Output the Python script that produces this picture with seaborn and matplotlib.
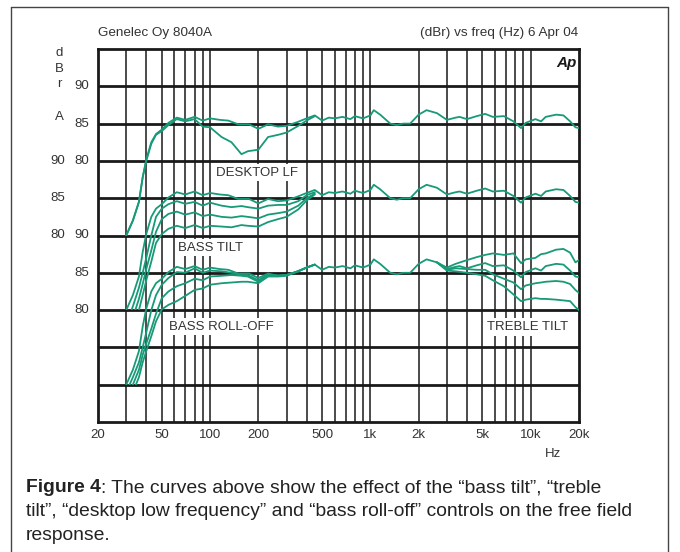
import matplotlib.pyplot as plt
import matplotlib.transforms as mtransforms
from matplotlib.patches import Rectangle
from matplotlib.lines import Line2D
from matplotlib.ticker import NullLocator
import seaborn as sns
import pandas as pd

sns.set_style('white')
plt.rcParams['font.family'] = ['Liberation Sans', 'DejaVu Sans']

GREEN = '#179a78'
INK = '#1a1a1a'

# ------------------------------------------------------------
# data (dBr)
# ------------------------------------------------------------
freq_hz = [30, 33, 36, 38, 40, 43, 46, 50, 55, 62, 70, 80, 90, 100, 115, 130,
           150, 175, 200, 230, 265, 300, 350, 400, 450, 500, 550, 600, 670,
           750, 800, 900, 1000, 1050, 1150, 1330, 1460, 1600, 1770, 2000,
           2240, 2600, 3000, 3400, 3600, 4000, 4600, 5200, 5800, 6800, 7800,
           8700, 9300, 10700, 11600, 12400, 14400, 16000, 17600, 19000, 20000]
flat_db = [70, 72, 74.5, 77.8, 80.2, 82.5, 83.6, 84.2, 85.1, 85.8, 85.5, 85.9,
           85.4, 85.7, 85.5, 85.4, 84.9, 84.9, 84.3, 84.9, 84.6, 84.7, 85.2,
           85.7, 86.1, 85.4, 85.8, 85.7, 85.9, 85.6, 86.0, 85.7, 86.1, 86.8,
           86.2, 85.0, 84.8, 85.0, 85.0, 86.2, 86.8, 86.4, 85.5, 85.8, 85.9,
           85.6, 86.0, 86.3, 85.9, 86.0, 85.3, 84.4, 85.1, 85.6, 85.3, 85.9,
           86.2, 86.1, 85.3, 84.5, 84.4]

freq_lo = [30, 33, 36, 38, 40, 43, 46, 50, 55, 62, 70, 80, 90, 100, 118, 136,
           157, 172, 200, 230, 266, 300, 355, 400, 450]
desktop_lf_db = [70, 72, 74.5, 77.8, 80.0, 82.3, 83.5, 84.0, 84.8, 85.6, 85.3,
                 85.6, 84.6, 84.5, 83.2, 82.5, 80.9, 81.3, 81.5, 83.2, 83.5,
                 83.8, 84.7, 85.4, 86.0]

bass_tilt_2_db = [68, 70.5, 73, 75, 77, 80, 82.5, 83.6, 84.2, 84.6, 84.25, 84.5,
                  84.0, 84.4, 84.0, 83.8, 83.95, 83.8, 83.6, 84.0, 84.1, 84.1,
                  84.6, 85.4, 85.8]
bass_tilt_4_db = [67, 69, 71.5, 73.5, 75.5, 78, 80.5, 82.2, 82.9, 83.2, 82.8,
                  83.1, 82.6, 82.8, 82.5, 82.4, 82.6, 82.5, 82.3, 82.8, 83.0,
                  83.2, 84.0, 85.0, 85.6]
bass_tilt_6_db = [66, 68, 70, 72, 74, 76.5, 79, 80.2, 80.9, 81.3, 81.0, 81.4,
                  81.0, 81.3, 81.2, 81.1, 81.4, 81.3, 81.2, 81.8, 82.2, 82.5,
                  83.5, 84.7, 85.5]

roll_off_2_db = [69, 71, 73, 75, 77, 80, 82, 83.4, 84.3, 85.1, 85.0, 85.6, 85.0,
                 85.3, 85.2, 85.0, 84.7, 84.7, 84.0, 84.8, 84.6, 84.7, 85.2,
                 85.7, 86.1]
roll_off_4_db = [68, 70, 72, 74, 75.5, 77.5, 79.5, 81.6, 82.5, 83.2, 83.6, 84.2,
                 84.0, 84.5, 84.6, 84.7, 84.6, 84.5, 83.8, 84.7, 84.6, 84.7,
                 85.2, 85.7, 86.1]
roll_off_6_db = [67, 69, 71, 73, 74.5, 76.5, 78.5, 80.1, 80.7, 81.2, 81.9, 82.7,
                 82.9, 83.4, 83.6, 83.7, 83.8, 83.8, 83.6, 84.5, 84.5, 84.6,
                 85.2, 85.7, 86.1]

freq_hi = [2600, 3000, 3400, 4000, 4600, 5200, 5800, 6800, 7800, 8700, 9300,
           10700, 11600, 12400, 14400, 16000, 17600, 19000, 20000]
treble_p2_db = [86.4, 85.7, 86.2, 86.7, 87.1, 87.4, 87.6, 87.4, 87.6, 86.3,
                86.8, 87.0, 87.5, 87.6, 88.1, 88.2, 87.7, 86.4, 86.7]
treble_m2_db = [86.4, 85.4, 85.6, 85.5, 85.4, 85.4, 84.8, 84.2, 83.7, 82.8,
                83.3, 83.6, 83.7, 83.8, 83.9, 83.8, 83.5, 82.7, 82.3]
treble_m4_db = [86.4, 85.3, 85.2, 85.0, 84.8, 84.6, 84.0, 83.2, 82.1, 81.2,
                81.4, 81.6, 81.5, 81.5, 81.4, 81.3, 81.2, 80.4, 80.0]

# each group is drawn in its own 20 dB band: plot height = dB - offset
groups = [
    ('desktop', 45, [(freq_hz, flat_db), (freq_lo, desktop_lf_db)]),
    ('bass tilt', 55, [(freq_hz, flat_db), (freq_lo, bass_tilt_2_db),
                       (freq_lo, bass_tilt_4_db), (freq_lo, bass_tilt_6_db)]),
    ('roll-off / treble', 65, [(freq_hz, flat_db), (freq_lo, roll_off_2_db),
                               (freq_lo, roll_off_4_db), (freq_lo, roll_off_6_db),
                               (freq_hi, treble_p2_db), (freq_hi, treble_m2_db),
                               (freq_hi, treble_m4_db)]),
]

W, H = 680, 552
fig = plt.figure(figsize=(W / 100, H / 100), dpi=100)
ax = fig.add_axes([98 / W, 1 - 422 / H, 481 / W, 373 / H])
ax.set_xscale('log')
ax.set_xlim(20, 20000)
ax.set_ylim(0, 50)

# grid
for dec in [10, 100, 1000]:
    for m in range(1, 10):
        f = m * dec
        if 20 < f < 20000:
            ax.axvline(f, color=INK, lw=1.1, zorder=1)
ax.axvline(10000, color=INK, lw=1.1, zorder=1)
for y in range(5, 50, 5):
    ax.axhline(y, color=INK, lw=2.0, zorder=1)
for s in ax.spines.values():
    s.set_linewidth(2.0)
    s.set_color(INK)

# curves
for name, offset, curves in groups:
    rows = []
    for i, (fr, db) in enumerate(curves):
        for f, v in zip(fr, db):
            rows.append({'freq': f, 'level': v - offset, 'curve': i})
    df = pd.DataFrame(rows)
    n0 = len(ax.lines)
    sns.lineplot(data=df, x='freq', y='level', units='curve', estimator=None,
                 color=GREEN, lw=1.3, legend=False, ax=ax, zorder=3)
    floor = 70 - offset
    for ln in ax.lines[n0:]:
        ln.set_clip_path(Rectangle((20, floor), 19980, 60, transform=ax.transData))
ax.set_xlabel('')
ax.set_ylabel('')

# ticks
ax.xaxis.set_minor_locator(NullLocator())
ax.set_xticks([20, 50, 100, 200, 500, 1000, 2000, 5000, 10000, 20000])
ax.set_xticklabels(['20', '50', '100', '200', '500', '1k', '2k', '5k', '10k', '20k'])
ax.tick_params(axis='x', length=0, pad=5, labelsize=9.5, colors='#333333')
ax.set_yticks([])
ax.set_yticks(range(0, 51), minor=True)
ax.tick_params(axis='y', which='minor', direction='in', length=3, width=1, color=INK)

# y labels, two columns
tr = mtransforms.blended_transform_factory(ax.transAxes, ax.transData)
col1, col2 = (65 - 98) / 481, (89 - 98) / 481
for y, lab in [(45, '90'), (40, '85'), (35, '80'), (25, '90'), (20, '85'), (15, '80')]:
    ax.text(col2, y, lab, transform=tr, ha='right', va='center', fontsize=9.5, color='#333333')
for y, lab in [(35, '90'), (30, '85'), (25, '80')]:
    ax.text(col1, y, lab, transform=tr, ha='right', va='center', fontsize=9.5, color='#333333')
for py, lab in [(53, 'd'), (68.5, 'B'), (84, 'r'), (117, 'A')]:
    fig.text(59 / W, 1 - py / H, lab, ha='center', va='center', fontsize=9.5, color='#333333')


def axfrac(px, py):
    return (px - 98) / 481, (422 - py) / 373


box = dict(boxstyle='square,pad=0.2', fc='white', ec='none')
for px, py, lab, ha in [(256.5, 172.8, 'DESKTOP LF', 'center'),
                        (178, 247.7, 'BASS TILT', 'left'),
                        (169.3, 326.7, 'BASS ROLL-OFF', 'left'),
                        (486.7, 327, 'TREBLE TILT', 'left')]:
    x, y = axfrac(px, py)
    ax.text(x, y, lab, transform=ax.transAxes, ha=ha, va='center', fontsize=9.5,
            color='#333333', bbox=box, zorder=2)

x, y = axfrac(566, 62.8)
ax.text(x, y, 'Ap', transform=ax.transAxes, ha='center', va='center', fontsize=11,
        fontweight='bold', fontstyle='italic', color=INK, zorder=4)

# header and axis unit
fig.text(98 / W, 1 - 33 / H, 'Genelec Oy 8040A', ha='left', va='center', fontsize=9.7, color='#333333')
fig.text(578 / W, 1 - 33 / H, '(dBr) vs freq (Hz) 6 Apr 04', ha='right', va='center',
         fontsize=9.7, color='#333333')
fig.text(552.5 / W, 1 - 454 / H, 'Hz', ha='center', va='center', fontsize=9.5, color='#333333')

# frame round the figure
for xs, ys in [([11, 11], [7, 560]), ([668, 668], [7, 560]), ([11, 668], [7, 7])]:
    fig.add_artist(Line2D([v / W for v in xs], [1 - v / H for v in ys], color='#444444', lw=1.0))

# caption
renderer = fig.canvas.get_renderer()
cap_kw = dict(fontsize=13.9, color='#222222', va='center')
t = fig.text(26 / W, 1 - 488 / H, 'Figure 4', fontweight='bold', **cap_kw)
bb = t.get_window_extent(renderer)
fig.text(bb.x1 / W, 1 - 488 / H, ': The curves above show the effect of the \u201cbass tilt\u201d, \u201ctreble', **cap_kw)
fig.text(26 / W, 1 - 512 / H, 'tilt\u201d, \u201cdesktop low frequency\u201d and \u201cbass roll-off\u201d controls on the free field', **cap_kw)
fig.text(26 / W, 1 - 536 / H, 'response.', **cap_kw)

plt.savefig('out.png', dpi=100)
